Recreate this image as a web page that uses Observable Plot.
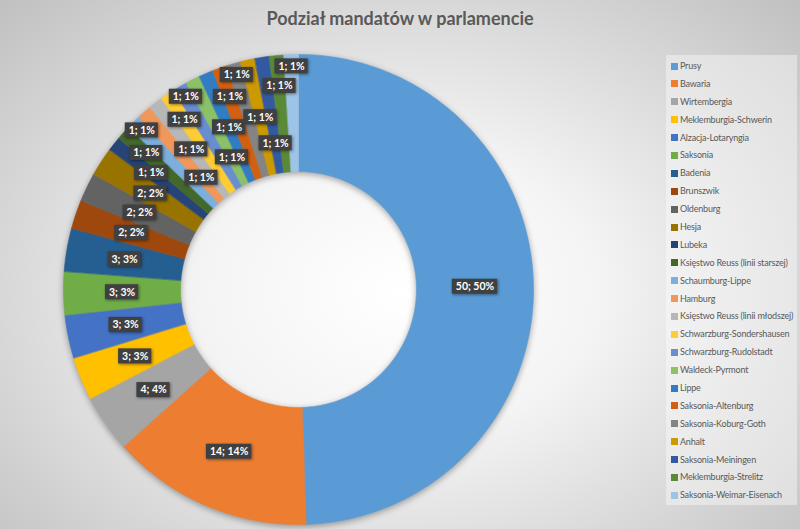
<!DOCTYPE html>
<html>
<head>
<meta charset="utf-8">
<script src="https://cdn.jsdelivr.net/npm/d3@7"></script>
<script src="https://cdn.jsdelivr.net/npm/@observablehq/plot@0.6"></script>
<style>
  html, body { margin: 0; padding: 0; }
  body {
    width: 800px; height: 529px; overflow: hidden; position: relative;
    background: radial-gradient(ellipse at 50% 55%, #ffffff 0%, #f4f4f4 35%, #c0c0c0 100%);
    font-family: Lato, "Open Sans", sans-serif;
  }
  #title {
    height: 36px; line-height: 36px; text-align: center;
    font-size: 18px; font-weight: bold; color: #595959;
  }
  #chart svg { display: block; }
  #legend {
    position: absolute; left: 666px; top: 55px; width: 131px; height: 450px;
    background: rgba(255,255,255,0.4); box-sizing: border-box; padding-top: 2px;
  }
  .item { height: 17.9px; line-height: 17.9px; position: relative; font-size: 9px; letter-spacing: -0.2px; color: #595959; white-space: nowrap; }
  .sw { position: absolute; left: 5px; top: 5.5px; width: 7px; height: 7px; }
  .lb { position: absolute; left: 14px; top: 0; }
</style>
</head>
<body>
<div id="title">Podział mandatów w parlamencie</div>
<div id="chart"></div>
<div id="legend"></div>
<script>
// Seats per state
const names = [
  "Prusy", "Bawaria", "Wirtembergia", "Meklemburgia-Schwerin", "Alzacja-Lotaryngia",
  "Saksonia", "Badenia", "Brunszwik", "Oldenburg", "Hesja", "Lubeka",
  "Księstwo Reuss (linii starszej)", "Schaumburg-Lippe", "Hamburg",
  "Księstwo Reuss (linii młodszej)", "Schwarzburg-Sondershausen", "Schwarzburg-Rudolstadt",
  "Waldeck-Pyrmont", "Lippe", "Saksonia-Altenburg", "Saksonia-Koburg-Goth", "Anhalt",
  "Saksonia-Meiningen", "Meklemburgia-Strelitz", "Saksonia-Weimar-Eisenach"
];
const seats = [50, 14, 4, 3, 3, 3, 3, 2, 2, 2, 1, 1, 1, 1, 1, 1, 1, 1, 1, 1, 1, 1, 1, 1, 1];
const colors = [
  "#5B9BD5", "#ED7D31", "#A5A5A5", "#FFC000", "#4472C4", "#70AD47",
  "#255E91", "#9E480E", "#636363", "#997300", "#264478", "#43682B",
  "#7CAFDD", "#F1975A", "#B7B7B7", "#FFCD33", "#698ED0", "#8CC168",
  "#327DC2", "#D26012", "#848484", "#CC9A00", "#335AA1", "#5A8A39", "#9DC3E6"
];

const total = d3.sum(seats);
const inner = 0.502, outer = 1;
const pxPerUnit = 235;

// Angular extent of each slice, clockwise from 12 o'clock
let acc = 0;
const slices = names.map((name, i) => {
  const a0 = acc / total * 2 * Math.PI;
  acc += seats[i];
  const a1 = acc / total * 2 * Math.PI;
  return {name, value: seats[i], a0, a1};
});

// Ring segments as closed polygons in unit coordinates
const ring = slices.flatMap(s => {
  const n = Math.max(2, Math.ceil((s.a1 - s.a0) / (Math.PI / 180)));
  const pts = [];
  for (let k = 0; k <= n; k++) {
    const a = s.a0 + (s.a1 - s.a0) * k / n;
    pts.push({name: s.name, x: outer * Math.sin(a), y: outer * Math.cos(a)});
  }
  for (let k = n; k >= 0; k--) {
    const a = s.a0 + (s.a1 - s.a0) * k / n;
    pts.push({name: s.name, x: inner * Math.sin(a), y: inner * Math.cos(a)});
  }
  return pts;
});

// Data labels: "value; percent", pushed outward when they would overlap
const ctx = document.createElement("canvas").getContext("2d");
ctx.font = "bold 10.5px Lato";
const mid = (inner + outer) / 2;
const candidates = [mid, 0.80, 0.87, 0.95, 0.63];
const placed = [];
const labels = slices.map(s => {
  const text = `${s.value}; ${Math.round(s.value / total * 100)}%`;
  const w = (ctx.measureText(text).width + 7) / pxPerUnit;
  const h = 15 / pxPerUnit;
  const pad = 2 / pxPerUnit;
  const a = (s.a0 + s.a1) / 2;
  let best = null;
  for (const r of candidates) {
    const c = {text, w, h, x: r * Math.sin(a), y: r * Math.cos(a)};
    const hit = placed.some(p =>
      Math.abs(p.x - c.x) < (p.w + c.w) / 2 + pad &&
      Math.abs(p.y - c.y) < (p.h + c.h) / 2 + pad);
    if (!hit) { best = c; break; }
  }
  if (!best) best = {text, w, h, x: mid * Math.sin(a), y: mid * Math.cos(a)};
  placed.push(best);
  return best;
});

const chart = Plot.plot({
  width: 800,
  height: 493,
  marginLeft: 63,
  marginRight: 267,
  marginTop: 18,
  marginBottom: 5,
  x: {domain: [-1, 1], axis: null},
  y: {domain: [-1, 1], axis: null},
  color: {domain: names, range: colors},
  style: {background: "transparent", overflow: "visible"},
  marks: [
    Plot.line(ring, {x: "x", y: "y", z: "name", fill: "name", stroke: "name", strokeWidth: 0.6, curve: "linear-closed"}),
    Plot.rect(labels, {
      x1: d => d.x - d.w / 2, x2: d => d.x + d.w / 2,
      y1: d => d.y - d.h / 2, y2: d => d.y + d.h / 2,
      fill: "#404040"
    }),
    Plot.text(labels, {x: "x", y: "y", text: "text", fill: "white", fontSize: 10.5, fontWeight: "bold", fontFamily: "Lato"})
  ]
});
document.getElementById("chart").append(chart);

// Soft shadows under the ring and the label boxes
const groups = chart.querySelectorAll("g[aria-label]");
groups.forEach(g => {
  const k = g.getAttribute("aria-label");
  if (k === "line") g.style.filter = "drop-shadow(0px 2px 3px rgba(0,0,0,0.35))";
  if (k === "rect") g.style.filter = "drop-shadow(1px 1px 1.5px rgba(0,0,0,0.45))";
});

// Legend
const legend = d3.select("#legend");
names.forEach((n, i) => {
  const item = legend.append("div").attr("class", "item");
  item.append("div").attr("class", "sw").style("background", colors[i]);
  item.append("div").attr("class", "lb").text(n);
});
</script>
</body>
</html>
